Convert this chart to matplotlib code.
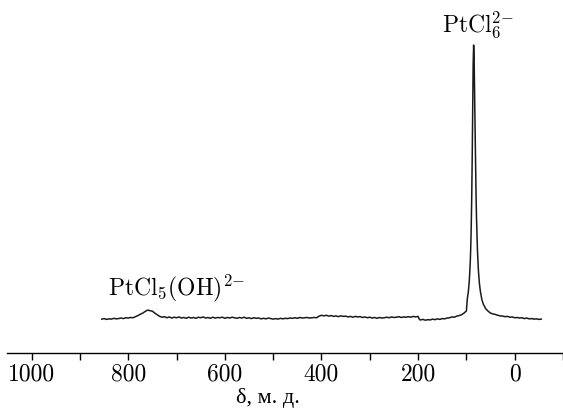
import matplotlib
matplotlib.use("Agg")
import matplotlib.pyplot as plt
import numpy as np

plt.rcParams['font.family'] = ['cmr10', 'DejaVu Serif']
plt.rcParams['mathtext.fontset'] = 'cm'
plt.rcParams['axes.formatter.use_mathtext'] = True

# chemical shift (ppm) and intensity (baseline ~ 0, main peak ~ 100)
shift = [855, 850, 845, 840, 835, 830, 825, 820, 815, 810, 805, 800, 795, 790,
         785, 780, 775, 770, 765, 760, 755, 750, 745, 740, 735, 730, 725, 720,
         715, 710, 705, 700, 695, 690, 685, 680, 675, 670, 665, 660, 655, 650,
         645, 640, 635, 630, 625, 620, 615, 610, 605, 600, 595, 590, 585, 580,
         575, 570, 565, 560, 555, 550, 545, 540, 535, 530, 525, 520, 515, 510,
         505, 500, 495, 490, 485, 480, 475, 470, 465, 460, 455, 450, 445, 440,
         435, 430, 425, 420, 415, 410, 405, 400, 395, 390, 385, 380, 375, 370,
         365, 360, 355, 350, 345, 340, 335, 330, 325, 320, 315, 310, 305, 300,
         295, 290, 285, 280, 275, 270, 265, 260, 255, 250, 245, 240, 235, 230,
         225, 220, 215, 210, 205, 200, 197, 195, 190, 185, 180, 175, 170, 165,
         160, 155, 150, 145, 140, 135, 130, 125, 120, 115, 110, 105, 100,
         98, 96, 94, 92, 91, 90, 89, 88, 87, 86, 85, 84, 83, 82, 81, 80, 79,
         77, 75, 73, 71, 68, 65, 60, 55, 50, 45, 40, 35, 30, 25, 20, 15, 10,
         5, 0, -5, -10, -15, -20, -25, -30, -35, -40, -45, -50, -55]
intensity = [-0.4, -0.2, -0.5, -0.3, -0.4, -0.1, -0.3, -0.2, 0.0, -0.2, 0.1, 0.0, 0.2, 0.1,
             0.5, 0.9, 1.4, 1.8, 2.4, 2.9, 2.7, 2.5, 1.8, 1.2, 0.6, 0.3, 0.5, 0.1,
             0.4, 0.0, 0.3, 0.1, 0.4, 0.0, 0.2, -0.1, 0.3, 0.0, 0.2, -0.1, 0.3, 0.1,
             0.4, 0.0, 0.2, -0.1, 0.3, 0.0, 0.2, 0.1, 0.3, -0.1, 0.2, 0.0, 0.3, 0.1,
             -0.1, 0.2, 0.0, 0.3, -0.1, 0.1, -0.2, 0.1, -0.1, 0.0, -0.3, -0.1, -0.3, 0.0,
             -0.2, -0.4, -0.2, -0.4, -0.1, -0.3, -0.1, -0.2, 0.0, -0.1, 0.1, -0.1, 0.2, 0.0,
             0.1, 0.2, 0.0, 0.1, 0.2, 0.1, 0.7, 1.0, 0.8, 1.0, 0.7, 0.9, 0.6, 0.8,
             0.5, 0.8, 0.6, 0.7, 0.4, 0.6, 0.3, 0.6, 0.4, 0.5, 0.2, 0.4, 0.1, 0.3,
             0.0, 0.2, -0.1, 0.2, 0.0, 0.1, 0.3, 0.1, 0.4, 0.2, 0.3, 0.5, 0.2, 0.4,
             0.3, 0.5, 0.3, 0.6, 0.4, 0.6, -0.6, -0.7, -0.5, -0.8, -0.6, -0.7, -0.4, -0.6,
             -0.3, -0.5, -0.2, -0.3, 0.0, 0.1, 0.4, 0.3, 0.7, 0.9, 1.2, 1.8, 2.6,
             7.2, 9.6, 13.6, 20.4, 25.8, 33.3, 43.8, 58.0, 75.8, 92.8, 100.0, 95.6, 83.8, 69.5, 56.2, 45.0, 36.3,
             24.3, 17.1, 12.6, 9.7, 6.8, 5.1, 3.4, 2.5, 1.8, 1.5, 1.3, 1.0, 0.8, 0.7, 0.5, 0.6, 0.3,
             0.4, 0.1, 0.2, 0.0, 0.1, -0.2, 0.0, -0.3, -0.2, -0.4, -0.3, -0.5, -0.4]

tick_pos = list(range(-100, 1001, 100))
tick_labels = [str(t) if t % 200 == 0 else '' for t in tick_pos]

fig = plt.figure(figsize=(5.63, 4.08), dpi=100)
ax = fig.add_axes([7.5 / 563, 55.3 / 408, 555.5 / 563, 352.7 / 408])

ax.plot(shift, intensity, color='#1a1a1a', lw=1.1)

ax.set_xlim(1050, -100)
ax.set_ylim(-12.7, 116.5)

for s in ['left', 'right', 'top']:
    ax.spines[s].set_visible(False)
ax.spines['bottom'].set_linewidth(1.0)
ax.set_yticks([])
ax.set_xticks(tick_pos)
ax.set_xticklabels(tick_labels)
ax.tick_params(axis='x', direction='out', length=5, width=1.0, pad=3, labelsize=17)

# axis title, sits a bit left of centre as in the original
ax.text(0.469, -0.128, 'δ, м. д.', transform=ax.transAxes, ha='center', va='center',
        fontsize=16, family=['Liberation Serif', 'DejaVu Serif'])

ax.text(76, 102, r'PtCl$_6^{2{-}}$', fontsize=17, ha='center', va='bottom')
ax.text(700, 5, r'PtCl$_5$(OH)$^{2{-}}$', fontsize=17, ha='center', va='bottom')

fig.savefig('out.png', dpi=100)
